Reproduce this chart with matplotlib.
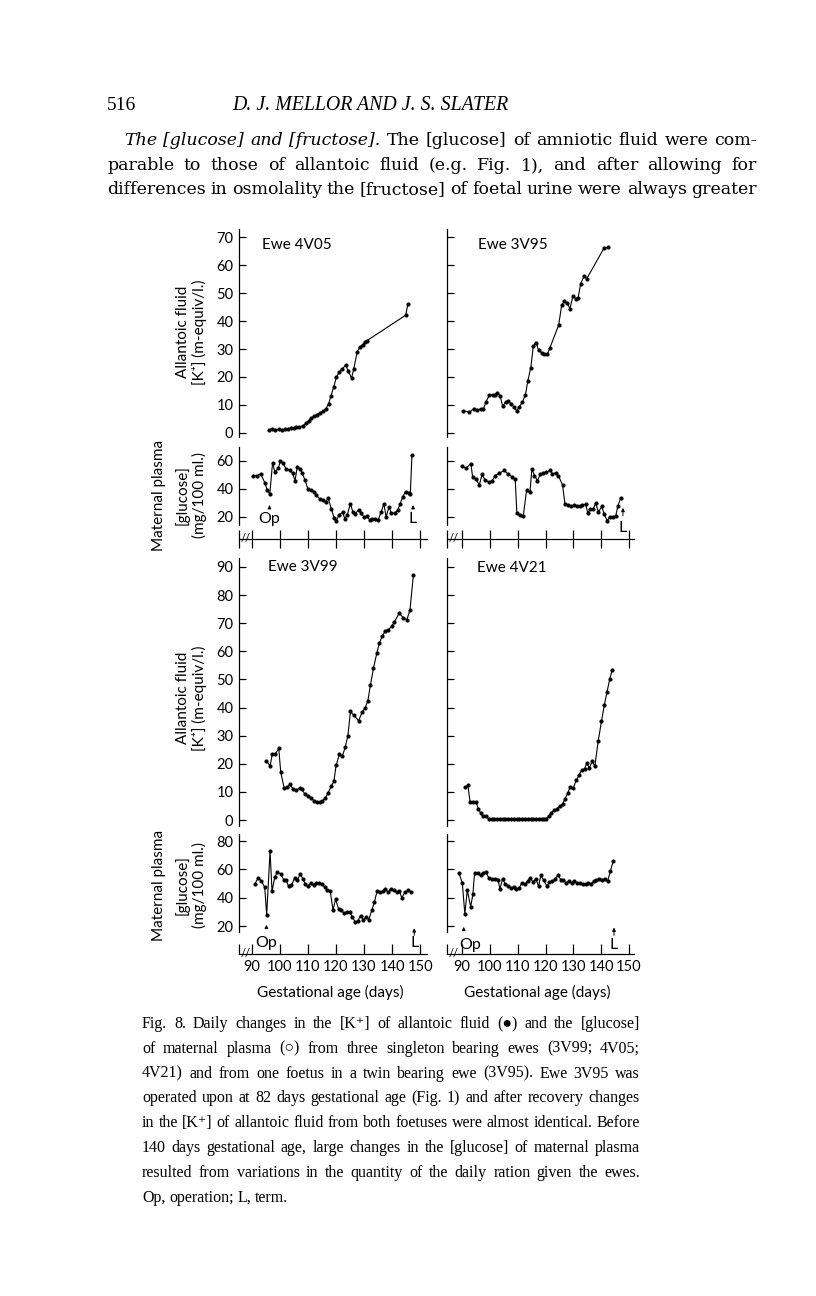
import matplotlib
matplotlib.use('Agg')
import matplotlib.pyplot as plt

plt.rcParams['font.family'] = ['Lato', 'DejaVu Sans']
SERIF = ['Liberation Serif', 'DejaVu Serif']
WIDE_SERIF = ['DejaVu Serif']

# Ewe 4V05
k05_day = [96.2, 97.3, 98.5, 99.8, 101, 102, 103, 104, 105, 106, 107, 108.3, 109.3, 110.3,
           111.3, 112.3, 113.3, 114.3, 115.3, 116.4, 117.4, 118.3, 119.3, 120.2, 121.2, 122.2,
           123.5, 124.5, 125.6, 126.4, 127.6, 128.5, 129.5, 130.3, 131.1, 144.9, 145.6]
k05_val = [0.9, 1.5, 1.2, 1.3, 1.1, 1.4, 1.6, 1.8, 1.9, 2.0, 2.1, 2.6, 3.4, 4.4,
           5.4, 6.0, 6.6, 7.2, 7.7, 8.5, 10.4, 13.3, 16.6, 19.9, 21.8, 22.7,
           24.3, 22.0, 19.6, 23.0, 28.9, 30.6, 31.6, 32.4, 33.0, 42.1, 45.9]
g05_day = [90.4, 91.8, 93.3, 94.8, 95.6, 96.5, 97.5, 98.3, 99.5, 100.3, 101.2, 102.4, 103.6,
           104.6, 105.5, 106.3, 107.2, 108.1, 109.0, 110.1, 111.0, 112.2, 113.0, 114.2, 115.4,
           116.4, 117.3, 118.4, 119.4, 120.2, 121.2, 122.4, 123.2, 124.1, 125.2, 126.1, 127.0,
           128.1, 129.0, 130.0, 131.0, 132.0, 132.9, 134.1, 135.0, 136.1, 137.1, 137.9, 138.9,
           139.8, 140.9, 142.0, 142.9, 143.8, 144.8, 145.9, 146.5, 147.1]
g05_val = [49.6, 49.6, 50.8, 44.2, 39.4, 36.3, 58.9, 52.0, 54.8, 60.0, 58.4, 54.1, 53.6,
           51.3, 46.0, 56.0, 54.1, 51.3, 46.5, 39.9, 39.0, 38.2, 35.9, 33.0, 32.3,
           30.7, 33.5, 25.7, 19.3, 17.4, 21.7, 23.3, 18.8, 21.7, 29.5, 23.3, 22.4,
           25.2, 22.8, 20.0, 20.9, 18.1, 18.6, 18.6, 17.6, 23.3, 29.5, 20.0, 27.1,
           22.8, 22.8, 24.7, 29.5, 34.2, 38.2, 37.1, 36.3, 64.3]

# Ewe 3V95
k95_day = [90.2, 92.6, 94.3, 95.5, 96.7, 97.7, 98.6, 99.8, 101.0, 101.9, 102.7, 103.7, 104.6,
           105.7, 106.6, 107.6, 108.7, 109.6, 110.6, 111.7, 112.8, 113.6, 114.7, 115.6, 116.6,
           117.5, 118.6, 119.6, 120.7, 121.6, 124.7, 125.8, 126.8, 127.7, 128.8, 129.8, 130.8,
           131.7, 132.6, 133.8, 134.8, 141.1, 142.6]
k95_val = [8.0, 7.5, 8.7, 8.1, 8.7, 8.7, 11.1, 13.5, 13.7, 13.7, 14.4, 13.2, 9.5,
           11.1, 11.5, 10.5, 9.2, 8.0, 9.3, 11.1, 13.7, 18.5, 23.3, 31.1, 32.3,
           29.5, 28.7, 28.3, 28.3, 30.5, 38.5, 45.6, 47.1, 46.5, 44.4, 48.9, 48.0,
           48.2, 53.3, 56.0, 55.1, 66.2, 66.3]
g95_day = [90.0, 91.4, 93.2, 93.8, 95.0, 96.2, 97.2, 98.2, 99.6, 100.8, 102.0, 103.4, 105.2,
           106.6, 107.9, 109.1, 109.7, 111.0, 112.0, 113.2, 114.4, 115.1, 116.0, 117.1, 118.1,
           119.2, 120.3, 121.7, 122.5, 123.7, 124.6, 126.1, 127.0, 128.2, 129.2, 130.3, 131.2,
           132.3, 133.2, 134.4, 135.2, 136.0, 137.2, 138.0, 139.0, 140.2, 141.1, 142.2, 143.0,
           144.2, 145.2, 146.0, 147.0]
g95_val = [56.4, 54.9, 58.1, 48.4, 47.2, 42.9, 50.4, 46.7, 44.8, 46.0, 49.6, 51.3, 53.3,
           50.4, 48.9, 47.2, 22.7, 21.2, 20.7, 39.3, 37.6, 54.5, 49.6, 46.0, 50.4,
           51.3, 52.0, 53.3, 50.8, 51.6, 49.6, 42.9, 29.2, 28.4, 27.5, 28.4, 27.5,
           27.5, 28.4, 29.2, 22.7, 25.5, 26.0, 29.9, 23.6, 27.5, 21.9, 17.1, 20.2,
           20.2, 20.7, 28.0, 33.5]

# Ewe 3V99
k99_day = [95.3, 96.6, 97.4, 98.5, 99.7, 100.4, 101.6, 102.8, 103.6, 104.8, 106.0, 107.1,
           107.9, 109.1, 110.1, 111.3, 112.2, 113.3, 114.2, 115.2, 116.2, 117.2, 118.4, 119.3,
           120.1, 121.3, 122.3, 123.3, 124.3, 125.2, 126.3, 128.1, 129.4, 130.4, 131.4, 132.3,
           133.4, 134.6, 135.5, 136.5, 137.6, 138.7, 139.9, 140.8, 142.6, 144.0, 145.3, 146.4,
           147.6]
k99_val = [21.1, 19.2, 23.4, 23.5, 25.5, 17.0, 11.5, 11.6, 12.7, 11.0, 10.7, 11.3,
           10.9, 9.1, 8.7, 7.7, 6.9, 6.5, 6.5, 6.8, 7.7, 9.5, 12.2, 13.7,
           19.4, 23.5, 22.6, 25.8, 29.9, 38.6, 37.4, 35.3, 38.4, 39.8, 42.4, 47.9,
           54.0, 59.4, 62.9, 65.3, 67.3, 67.7, 68.9, 70.4, 73.6, 71.9, 71.3, 74.8,
           87.1]
g99_day = [91.2, 92.4, 93.5, 94.7, 95.4, 96.6, 97.3, 98.3, 99.2, 100.4, 101.6, 102.4, 103.2,
           104.2, 105.4, 106.3, 107.3, 108.3, 109.1, 110.1, 111.0, 112.1, 113.0, 114.0, 115.1,
           116.0, 116.9, 118.0, 119.0, 119.9, 121.0, 122.0, 122.9, 124.0, 124.9, 125.8, 126.9,
           127.8, 128.8, 129.8, 130.8, 131.7, 132.8, 133.7, 134.7, 135.7, 136.7, 137.6, 138.7,
           139.6, 140.6, 141.7, 142.6, 143.5, 144.6, 145.6, 146.7]
g99_val = [49.9, 54.1, 51.8, 47.5, 28.0, 72.9, 44.7, 54.6, 58.1, 56.9, 52.2, 52.2, 48.0,
           48.7, 54.1, 52.2, 56.9, 53.4, 49.9, 48.0, 50.4, 48.7, 50.4, 50.4, 49.9,
           47.5, 45.2, 44.7, 31.5, 38.8, 32.2, 31.1, 29.2, 29.9, 29.9, 26.8, 22.8,
           23.5, 27.5, 24.5, 26.4, 24.5, 31.1, 36.9, 44.7, 44.0, 44.5, 45.9, 44.0,
           46.4, 45.6, 44.0, 44.7, 40.0, 44.0, 45.2, 44.0]

# Ewe 4V21
k21_day = [91.0, 92.1, 92.9, 93.9, 95.1, 95.8, 96.7, 97.6, 98.7, 99.6, 100.6, 101.6, 102.6,
           103.6, 104.6, 105.6, 106.6, 107.6, 108.6, 109.6, 110.6, 111.6, 112.6, 113.6, 114.6,
           115.6, 116.6, 117.6, 118.6, 119.6, 120.2, 121.1, 122.0, 123.1, 124.0, 125.2, 126.2,
           127.0, 128.0, 128.8, 130.0, 131.0, 132.1, 133.0, 134.0, 134.8, 135.7, 136.8, 137.7,
           138.9, 140.1, 141.1, 142.1, 143.1, 144.0]
k21_val = [11.6, 12.3, 6.4, 6.4, 6.4, 4.0, 2.5, 1.3, 1.3, 0.4, 0.4, 0.4, 0.4,
           0.4, 0.4, 0.4, 0.4, 0.4, 0.4, 0.4, 0.4, 0.4, 0.4, 0.4, 0.4,
           0.4, 0.4, 0.4, 0.4, 0.4, 0.5, 1.3, 2.5, 3.4, 4.0, 4.9, 5.8,
           7.6, 9.6, 11.7, 11.4, 14.1, 16.1, 17.9, 18.1, 20.3, 18.5, 20.9, 19.1,
           28.0, 35.1, 40.8, 45.6, 50.3, 53.5]
g21_day = [88.9, 90.1, 91.0, 91.9, 93.1, 93.9, 94.5, 95.7, 96.7, 97.6, 98.5, 99.6, 100.8,
           102.0, 102.9, 103.6, 104.6, 105.6, 106.5, 107.6, 108.6, 109.5, 110.6, 111.5, 112.5,
           113.6, 114.5, 115.5, 116.5, 117.5, 118.3, 119.3, 120.5, 121.4, 122.5, 123.5, 124.4,
           125.5, 126.4, 127.4, 128.5, 129.4, 130.4, 131.4, 132.4, 133.3, 134.4, 135.4, 136.3,
           137.4, 138.3, 139.3, 140.4, 141.3, 142.3, 143.3, 144.3]
g21_val = [57.2, 50.6, 28.7, 45.4, 33.6, 42.4, 57.6, 57.2, 55.8, 57.6, 58.4, 54.1, 53.4,
           53.4, 52.9, 46.4, 53.4, 49.4, 48.2, 47.1, 47.5, 46.4, 47.1, 50.6, 49.4,
           51.8, 54.1, 51.1, 53.4, 48.2, 55.8, 52.5, 48.2, 51.1, 51.8, 53.4, 55.8,
           52.9, 52.2, 50.6, 51.8, 50.6, 51.8, 50.1, 50.6, 49.4, 49.9, 50.6, 49.9,
           51.8, 52.5, 53.4, 52.9, 53.4, 51.8, 58.8, 65.9]

names = ['Ewe 4V05', 'Ewe 3V95', 'Ewe 3V99', 'Ewe 4V21']
op_day = [96.4, None, 95.3, 90.6]
term_day = [147.5, 147.8, 147.9, 144.6]
age_ticks = [90, 100, 110, 120, 130, 140, 150]

W, H = 816, 1296
fig = plt.figure(figsize=(W / 100, H / 100), dpi=100)


def px(x, y):
    return x / W, 1 - y / H


def new_axes(x0, x1, ytop, ybot, xlim, ylim):
    ax = fig.add_axes([x0 / W, 1 - ybot / H, (x1 - x0) / W, (ybot - ytop) / H])
    ax.patch.set_visible(False)
    ax.set_xlim(xlim)
    ax.set_ylim(ylim)
    for s in ['top', 'right', 'bottom']:
        ax.spines[s].set_visible(False)
    ax.spines['left'].set_linewidth(0.9)
    ax.tick_params(axis='y', direction='in', length=5, width=0.9, labelsize=10.5, pad=4)
    ax.set_xticks([])
    return ax


def series(ax, d, v):
    ax.plot(d, v, '-o', color='k', lw=0.8, ms=2.0, clip_on=False)


def age_axis(ax, xlim, low, style, labels):
    ax.spines['bottom'].set_visible(True)
    ax.spines['bottom'].set_linewidth(0.9)
    ax.spines['left'].set_bounds(low, ax.get_ylim()[1])
    ax.set_xticks([xlim[0]] + age_ticks)
    if labels:
        ax.set_xticklabels([''] + [str(t) for t in age_ticks])
    else:
        ax.set_xticklabels([])
    if style == 'inout':
        ax.tick_params(axis='x', direction='inout', length=13, width=0.9)
    else:
        ax.tick_params(axis='x', direction='in', length=7, width=0.9, labelsize=10.5, pad=5)
    ax.text(0.033, 0.0, '//', transform=ax.transAxes, fontsize=8, ha='center', va='center')


def mark(ax, day, y0, y1, ty, s):
    ax.annotate('', xy=(day, y1), xytext=(day, y0),
                arrowprops=dict(arrowstyle='-|>', lw=0.7, color='k', mutation_scale=5))
    ax.text(day, ty, s, ha='center', va='center', fontsize=11.5)


cols = [(239, 427, (85.55, 152.45)), (447, 633.5, (84.6, 151.6))]

# top row
top_k = [(k05_day, k05_val), (k95_day, k95_val)]
top_g = [(g05_day, g05_val), (g95_day, g95_val)]
for i in range(2):
    x0, x1, xlim = cols[i]
    ax = new_axes(x0, x1, 229, 437, xlim, (-1.43, 72.86))
    ax.set_yticks(range(0, 71, 10))
    series(ax, *top_k[i])
    ag = new_axes(x0, x1, 447, 538.5, xlim, (4.64, 70))
    ag.set_yticks([20, 40, 60])
    age_axis(ag, xlim, 14.3, 'inout', False)
    series(ag, *top_g[i])
    if i == 1:
        ax.set_yticklabels([])
        ag.set_yticklabels([])

# bottom row
bot_k = [(k99_day, k99_val), (k21_day, k21_val)]
bot_g = [(g99_day, g99_val), (g21_day, g21_val)]
for i in range(2):
    x0, x1, xlim = cols[i]
    ax = new_axes(x0, x1, 558, 826, xlim, (-2.13, 93.2))
    ax.set_yticks(range(0, 91, 10))
    series(ax, *bot_k[i])
    ag = new_axes(x0, x1, 834, 953.5, xlim, (0.7, 85.0))
    ag.set_yticks([20, 40, 60, 80])
    age_axis(ag, xlim, 15.9, 'in', True)
    series(ag, *bot_g[i])
    if i == 1:
        ax.set_yticklabels([])
        ag.set_yticklabels([])
    fig.text(*px((x0 + x1) / 2 - 3, 992), 'Gestational age (days)', ha='center', va='center', fontsize=11)

# annotations, in the glucose axes
axs = fig.axes
mark(axs[1], op_day[0], 25, 30.5, 18.6, 'Op')
mark(axs[1], term_day[0], 25, 30.5, 18.6, 'L')
mark(axs[3], term_day[1], 19, 28.5, 12, 'L')
mark(axs[5], op_day[2], 17.2, 21, 8, 'Op')
mark(axs[5], term_day[2], 11.5, 20.5, 8, 'L')
mark(axs[7], op_day[3], 16, 19.5, 6.6, '')
axs[7].text(93.0, 6.6, 'Op', ha='center', va='center', fontsize=11.5)
mark(axs[7], term_day[3], 11.5, 21, 6.6, 'L')

for (x, y), s in zip([(262, 245), (478, 245), (268, 567), (477, 568)], names):
    fig.text(*px(x, y), s, ha='left', va='center', fontsize=11)

for yc in [332, 698]:
    fig.text(*px(183, yc), 'Allantoic fluid', rotation=90, ha='center', va='center', fontsize=11)
    fig.text(*px(199, yc), '[K\u207a] (m-equiv/l.)', rotation=90, ha='center', va='center', fontsize=11)
for yc in [495, 885]:
    fig.text(*px(159, yc), 'Maternal plasma', rotation=90, ha='center', va='center', fontsize=11)
    fig.text(*px(182, yc), '[glucose]', rotation=90, ha='center', va='center', fontsize=11)
    fig.text(*px(199, yc), '(mg/100 ml.)', rotation=90, ha='center', va='center', fontsize=11)

# page text
r = fig.canvas.get_renderer()


def justify(line, left, right, y, size, family, fill=True):
    texts = []
    for w in line.split(' '):
        style = 'normal'
        if w.startswith('*'):
            w, style = w[1:], 'italic'
        texts.append(fig.text(*px(left, y), w, fontsize=size, style=style, family=family, va='baseline'))
    widths = [t.get_window_extent(r).width for t in texts]
    gap = (right - left - sum(widths)) / max(len(texts) - 1, 1)
    if not fill:
        gap = size * 0.33
    x = left
    for t, w in zip(texts, widths):
        t.set_position(px(x, y))
        x += w + gap


fig.text(*px(107, 110), '516', fontsize=14, family=SERIF, va='baseline')
fig.text(*px(370, 110), 'D. J. MELLOR AND J. S. SLATER', fontsize=14.3, style='italic',
         family=SERIF, va='baseline', ha='center')

body = ['*The *[glucose] *and *[fructose]. The [glucose] of amniotic fluid were com-',
        'parable to those of allantoic fluid (e.g. Fig. 1), and after allowing for',
        'differences in osmolality the [fructose] of foetal urine were always greater']
justify(body[0], 124, 757, 145, 12.5, WIDE_SERIF)
justify(body[1], 107, 757, 170, 12.5, WIDE_SERIF)
justify(body[2], 107, 757, 194, 12.5, WIDE_SERIF)

caption = ['Fig. 8. Daily changes in the [K\u207a] of allantoic fluid (\u25cf) and the [glucose]',
           'of maternal plasma (\u25cb) from three singleton bearing ewes (3V99; 4V05;',
           '4V21) and from one foetus in a twin bearing ewe (3V95). Ewe 3V95 was',
           'operated upon at 82 days gestational age (Fig. 1) and after recovery changes',
           'in the [K\u207a] of allantoic fluid from both foetuses were almost identical. Before',
           '140 days gestational age, large changes in the [glucose] of maternal plasma',
           'resulted from variations in the quantity of the daily ration given the ewes.',
           'Op, operation; L, term.']
for i, line in enumerate(caption):
    justify(line, 142, 640, 1028 + 24.8 * i, 11.5, SERIF, fill=i < 7)

fig.savefig('out.png', dpi=100)
